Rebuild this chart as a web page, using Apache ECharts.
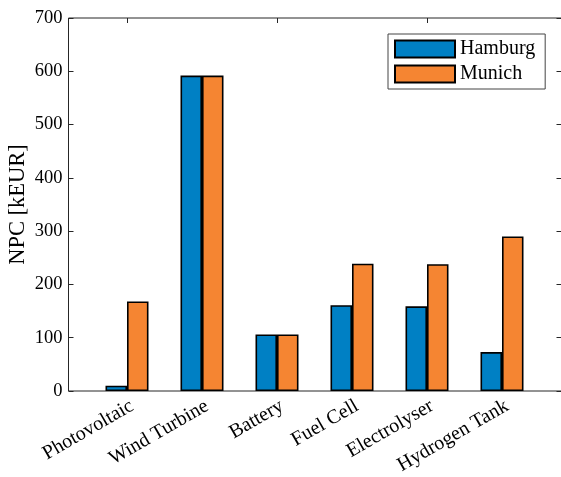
<!DOCTYPE html>
<html>
<head>
<meta charset="utf-8">
<script src="https://cdn.jsdelivr.net/npm/echarts@6/dist/echarts.min.js"></script>
<style>html,body{margin:0;padding:0;background:#fff}#c{width:561px;height:477px}</style>
</head>
<body>
<div id="c"></div>
<script>
const categories = ['Photovoltaic', 'Wind Turbine', 'Battery', 'Fuel Cell', 'Electrolyser', 'Hydrogen Tank'];
const hamburg = [10, 592, 106, 161, 159, 73];
const munich = [168, 592, 106, 239, 238, 290];
const yTicks = [0, 100, 200, 300, 400, 500, 600, 700];

const FONT = 'Liberation Serif';
const AX = '#262626';
const chart = echarts.init(document.getElementById('c'), null, {renderer: 'canvas'});
const barBorder = {borderColor: '#000', borderWidth: 1.6};
chart.setOption({
  animation: false,
  textStyle: {fontFamily: FONT},
  grid: [
    {left: 68.5, top: 18, width: 493, height: 373, show: true, borderColor: AX, borderWidth: 1,
     backgroundColor: 'transparent', outerBoundsMode: 'none', containLabel: false},
    {left: 89.5, top: 18, width: 450, height: 373, outerBoundsMode: 'none', containLabel: false}
  ],
  legend: {
    orient: 'vertical', left: 388, top: 34, itemWidth: 60, itemHeight: 17, itemGap: 5, icon: 'rect',
    padding: [5, 10, 5, 6], borderColor: '#444', borderWidth: 1, backgroundColor: '#fff',
    textStyle: {fontFamily: FONT, fontSize: 20, color: '#000', padding: [0, 0, 0, 0]},
    data: ['Hamburg', 'Munich']
  },
  xAxis: [
    {gridIndex: 0, type: 'value', min: 0, max: 1, show: false},
    {gridIndex: 1, type: 'category', data: categories, position: 'bottom',
     axisLine: {show: false}, axisTick: {show: false},
     axisLabel: {rotate: 30, fontFamily: FONT, fontSize: 20, color: '#000', margin: 5, verticalAlign: 'top'}},
    {gridIndex: 1, type: 'category', data: categories, position: 'top',
     axisLine: {show: false}, axisTick: {show: true, inside: true, alignWithLabel: true, length: 5, lineStyle: {color: AX}},
     axisLabel: {show: false}}
  ],
  yAxis: [
    {gridIndex: 0, type: 'value', min: 0, max: 700, interval: 100, position: 'left',
     name: 'NPC [kEUR]', nameLocation: 'middle', nameGap: 39, nameRotate: 90, nameMoveOverlap: false,
     nameTextStyle: {fontFamily: FONT, fontSize: 22.5, color: '#000'},
     axisLine: {show: false}, splitLine: {show: false},
     axisTick: {inside: true, length: 5, lineStyle: {color: AX}},
     axisLabel: {fontFamily: FONT, fontSize: 18.5, color: '#000', margin: 6,
       formatter: v => yTicks.includes(v) ? String(v) : ''}},
    {gridIndex: 0, type: 'value', min: 0, max: 700, interval: 100, position: 'right',
     axisLine: {show: false}, splitLine: {show: false}, axisLabel: {show: false},
     axisTick: {inside: true, length: 5, lineStyle: {color: AX}}},
    {gridIndex: 1, type: 'value', min: 0, max: 700, show: false}
  ],
  series: [
    {name: 'Hamburg', type: 'bar', xAxisIndex: 1, yAxisIndex: 2, data: hamburg, barWidth: 21.5, barGap: '0%',
     itemStyle: Object.assign({color: '#0080C4'}, barBorder)},
    {name: 'Munich', type: 'bar', xAxisIndex: 1, yAxisIndex: 2, data: munich, barWidth: 21.5, barGap: '0%',
     itemStyle: Object.assign({color: '#F58532'}, barBorder)}
  ]
});
</script>
</body>
</html>
